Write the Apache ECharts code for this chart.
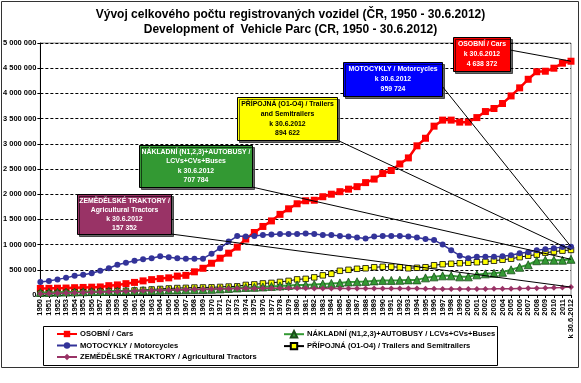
<!DOCTYPE html>
<html><head><meta charset="utf-8">
<script src="https://cdn.jsdelivr.net/npm/echarts@6/dist/echarts.min.js"></script>
<style>html,body{margin:0;padding:0;background:#fff}#c{width:581px;height:383px}</style>
</head><body><div id="c"></div>
<script>
const categories = ['1950','1951','1952','1953','1954','1955','1956','1957','1958','1959','1960','1961','1962','1963','1964','1965','1966','1967','1968','1969','1970','1971','1972','1973','1974','1975','1976','1977','1978','1979','1980','1981','1982','1983','1984','1985','1986','1987','1988','1989','1990','1991','1992','1993','1994','1995','1996','1997','1998','1999','2000','2001','2002','2003','2004','2005','2006','2007','2008','2009','2010','2011','k 30.6.2012'];
const seriesNames = ['OSOBNÍ / Cars','NÁKLADNÍ (N1,2,3)+AUTOBUSY / LCVs+CVs+Buses','MOTOCYKLY / Motorcycles','PŘÍPOJNÁ (O1-O4) / Trailers and Semitrailers','ZEMĚDĚLSKÉ TRAKTORY / Agricultural Tractors'];
const cars = [130000,132000,135000,138000,145000,150000,155000,160000,185000,200000,225000,250000,280000,305000,325000,340000,375000,390000,460000,530000,630000,730000,830000,950000,1110000,1240000,1360000,1470000,1600000,1710000,1810000,1870000,1880000,1950000,2000000,2050000,2100000,2150000,2230000,2300000,2410000,2470000,2600000,2720000,2960000,3110000,3350000,3470000,3470000,3430000,3430000,3520000,3640000,3700000,3800000,3950000,4110000,4280000,4430000,4440000,4500000,4600000,4638372];
const trucks = [50000,52000,55000,58000,60000,64000,68000,70000,74000,78000,80000,84000,88000,90000,94000,98000,100000,104000,108000,110000,112000,120000,130000,140000,150000,152000,160000,170000,180000,190000,200000,200000,210000,220000,230000,240000,258000,262000,270000,280000,290000,290000,292000,300000,300000,340000,360000,380000,380000,360000,360000,400000,420000,430000,450000,500000,550000,600000,680000,690000,690000,690000,707784];
const motorcycles = [260000,280000,310000,340000,380000,400000,430000,480000,530000,600000,640000,680000,710000,730000,770000,750000,730000,720000,720000,720000,820000,930000,1060000,1170000,1160000,1170000,1190000,1200000,1210000,1210000,1210000,1220000,1210000,1190000,1190000,1170000,1160000,1140000,1120000,1160000,1170000,1170000,1170000,1160000,1140000,1110000,1090000,1000000,890000,780000,730000,760000,760000,760000,770000,790000,830000,850000,890000,910000,930000,950000,959724];
const trailers = [30000,34000,38000,44000,50000,54000,60000,66000,70000,76000,82000,90000,100000,110000,120000,130000,138000,142000,148000,150000,152000,160000,168000,172000,200000,210000,230000,240000,260000,280000,310000,320000,350000,390000,420000,480000,500000,520000,530000,550000,560000,560000,550000,530000,540000,550000,590000,610000,620000,630000,640000,650000,660000,680000,700000,720000,750000,780000,800000,840000,860000,880000,894622];
const tractors = [25000,29000,34000,38000,44000,48000,54000,58000,63000,68000,74000,79000,85000,90000,95000,99000,104000,108000,112000,116000,120000,124000,126000,128000,130000,131000,132000,134000,135000,135000,134000,132000,131000,130000,130000,130000,130000,129000,129000,130000,130000,130000,129000,128000,128000,126000,123000,121000,120000,120000,119000,120000,121000,122000,124000,126000,129000,132000,136000,140000,145000,150000,157352];
const yTicks = {min:0, max:5000000, interval:500000};
const titleLines = ['Vývoj celkového počtu registrovaných vozidel (ČR, 1950 - 30.6.2012)','Development of  Vehicle Parc (CR, 1950 - 30.6.2012)'];
const calloutTexts = [
  ['OSOBNÍ / Cars','k 30.6.2012','4 638 372'],
  ['NÁKLADNÍ (N1,2,3)+AUTOBUSY /','LCVs+CVs+Buses','k 30.6.2012','707 784'],
  ['MOTOCYKLY / Motorcycles','k 30.6.2012','959 724'],
  ['PŘÍPOJNÁ (O1-O4) / Trailers','and Semitrailers','k 30.6.2012','894 622'],
  ['ZEMĚDĚLSKÉ TRAKTORY /','Agricultural Tractors','k 30.6.2012','157 352']
];

const FONT = 'Liberation Sans, Arial, sans-serif';
const chart = echarts.init(document.getElementById('c'), null, {renderer:'canvas'});
const fmt = v => String(v).replace(/\B(?=(\d{3})+(?!\d))/g, ' ');

const styles = [
  {color:'#FF0000', symbol:'rect', size:7, lw:2.5, border:'#FF0000'},
  {color:'#339933', symbol:'triangle', size:8, lw:2, border:'#1a4d1a'},
  {color:'#333399', symbol:'circle', size:6, lw:1.5, border:'#333399'},
  {color:'#FFFF00', symbol:'rect', size:5.5, lw:1, border:'#000000', line:'#000000'},
  {color:'#993366', symbol:'diamond', size:6, lw:1.5, border:'#993366'}
];
const dataSets = [cars, trucks, motorcycles, trailers, tractors];

const series = dataSets.map((d,i)=>({
  name: seriesNames[i], type:'line', data:d, symbol:styles[i].symbol, symbolSize:styles[i].size,
  showAllSymbol:true,
  lineStyle:{color: styles[i].line || styles[i].color, width: styles[i].lw},
  itemStyle:{color: styles[i].color, borderColor: styles[i].border, borderWidth: (i===3||i===1)?0.8:0},
  z: 2 + (i===3?0:i)
}));

const legendText = {fontFamily:FONT, fontSize:7.6, fontWeight:'bold', color:'#000', padding:[0,0,0,-2]};
const option = {
  animation:false,
  backgroundColor:'#fff',
  title:[
    {text:titleLines[0], left:'center', top:4, textStyle:{fontFamily:FONT, fontSize:12, fontWeight:'bold', color:'#000'}},
    {text:titleLines[1], left:'center', top:19, textStyle:{fontFamily:FONT, fontSize:12, fontWeight:'bold', color:'#000'}}
  ],
  grid:{left:39, right:10, top:43, bottom:88, show:true, borderColor:'#888', borderWidth:1, backgroundColor:'#fff'},
  legend:[
    {data:[seriesNames[0], seriesNames[2], seriesNames[4]], orient:'vertical', left:51, top:325, itemWidth:20, itemHeight:8, itemGap:3.5, textStyle:legendText},
    {data:[seriesNames[1], seriesNames[3]], orient:'vertical', left:278, top:325, itemWidth:20, itemHeight:8, itemGap:3.5, textStyle:legendText}
  ],
  xAxis:{type:'category', data:categories, boundaryGap:false,
    axisLine:{lineStyle:{color:'#000'}},
    axisTick:{show:true, lineStyle:{color:'#000'}, length:3},
    axisLabel:{interval:0, rotate:90, fontFamily:FONT, fontSize:7.5, fontWeight:'bold', color:'#000', margin:4},
    splitLine:{show:false}},
  yAxis:{type:'value', min:yTicks.min, max:yTicks.max, interval:yTicks.interval,
    axisLine:{show:true, lineStyle:{color:'#000'}},
    axisTick:{show:true, length:3, lineStyle:{color:'#000'}},
    axisLabel:{formatter:fmt, fontFamily:FONT, fontSize:7.5, fontWeight:'bold', color:'#000', margin:4},
    splitLine:{show:true, lineStyle:{color:'#000', type:[3,2], width:1}}},
  series: series
};
chart.setOption(option);

// callout boxes and leader lines
const boxes = [
  {x:453, y:37, w:57, h:34, fill:'#FF0000', text:'#fff', from:[510,50]},
  {x:139, y:145, w:113, h:42, fill:'#339933', text:'#fff', from:[252,187]},
  {x:343, y:62, w:99, h:34, fill:'#0000FF', text:'#fff', from:[442,86]},
  {x:237, y:97, w:100, h:43, fill:'#FFFF00', text:'#000', from:[337,140]},
  {x:77, y:194, w:94, h:40, fill:'#993366', text:'#fff', from:[171,234]}
];
const last = categories.length - 1;
const g = [];
g.push({type:'rect', shape:{x:1.5, y:1.5, width:577, height:366}, style:{fill:null, stroke:'#333', lineWidth:1}, z:0, silent:true});
g.push({type:'rect', shape:{x:43.5, y:326.5, width:454, height:39}, style:{fill:null, stroke:'#000', lineWidth:1}, z:10, silent:true});
boxes.forEach((b,i)=>{
  const p = chart.convertToPixel({seriesIndex:i}, [last, dataSets[i][last]]);
  g.push({type:'line', shape:{x1:b.from[0], y1:b.from[1], x2:p[0], y2:p[1]}, style:{stroke:'#000', lineWidth:1}, z:50, silent:true});
  g.push({type:'rect', shape:{x:b.x+0.5, y:b.y+0.5, width:b.w, height:b.h},
    style:{fill:b.fill, stroke:'#000', lineWidth:1, shadowColor:'rgba(0,0,0,0.6)', shadowOffsetX:2, shadowOffsetY:2, shadowBlur:0}, z:51, silent:true});
  const lines = calloutTexts[i];
  const lh = (b.h - 4) / lines.length;
  g.push({type:'text', z:52, silent:true, x:b.x + b.w/2 + 0.5, y:b.y + 2 + (b.h-4)/2, scaleX:0.86, scaleY:1,
    style:{text:lines.join('\n'), x:0, y:0, align:'center', verticalAlign:'middle', textAlign:'center', textVerticalAlign:'middle',
      lineHeight:lh, font:'bold 8px ' + FONT, fill:b.text}});
});
chart.setOption({graphic:g});
</script>
</body></html>
